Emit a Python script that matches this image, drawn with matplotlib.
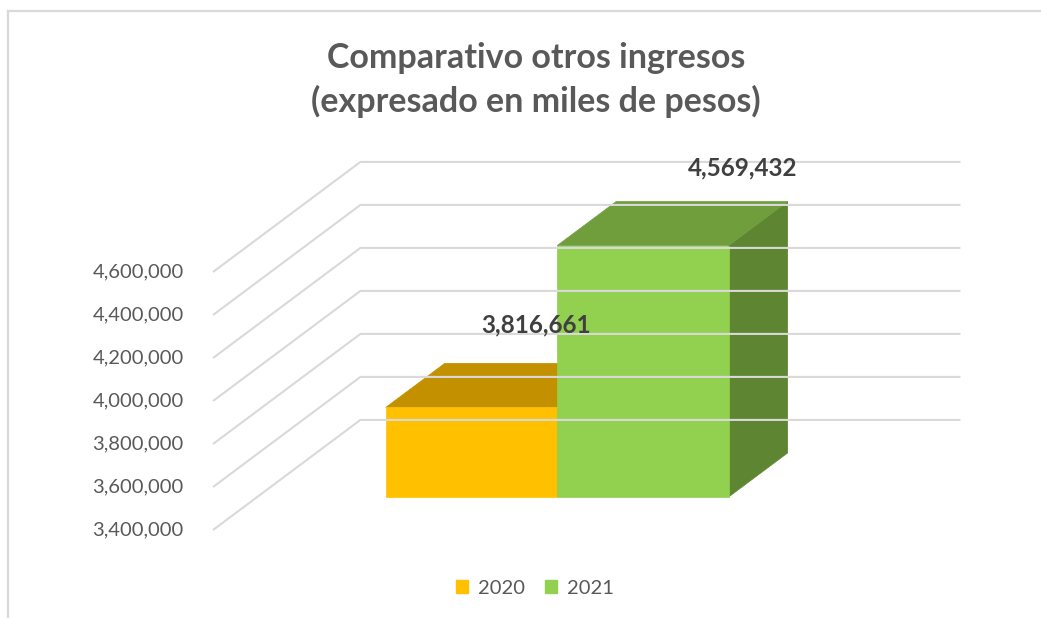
import matplotlib
matplotlib.use("Agg")
import matplotlib.pyplot as plt
from matplotlib.patches import Polygon, Patch
from matplotlib.lines import Line2D

plt.rcParams['font.family'] = ['Lato', 'DejaVu Sans']

# data
years = ['2020', '2021']
values = [3816661, 4569432]
bar_colors = ['#FFC000', '#92D050']
top_colors = ['#C39100', '#709E3C']
side_colors = ['#A07800', '#5E8632']
y_ticks = [3400000, 3600000, 3800000, 4000000, 4200000, 4400000, 4600000]
title = 'Comparativo otros ingresos\n(expresado en miles de pesos)'

y_min, y_max = 3400000, 4600000
floor_w = 3.5          # floor width in bar widths
gap = 0.75             # space before first bar
depth_dx = 0.86        # full wall depth, x (bar widths)
depth_dy = 512000      # full wall depth, y (value units)
d_front, d_back = 0.3, 0.7

gray = '#595959'
grid = '#D9D9D9'

fig = plt.figure(figsize=(10.41, 6.18), dpi=100)
ax = fig.add_axes([213 / 1041, 88 / 618, 600 / 1041, 258 / 618])
ax.set_xlim(0, floor_w)
ax.set_ylim(y_min, y_max)
ax.axis('off')


def P(x, v, d):
    return (x + depth_dx * d, v + depth_dy * d)


# gridlines: left wall + back wall
for v in y_ticks:
    xs, ys = zip(P(0, v, 0), P(0, v, 1), P(floor_w, v, 1))
    ax.plot(xs, ys, color=grid, lw=1.5, clip_on=False, solid_capstyle='butt')
    ax.annotate(f'{v:,}', xy=(0, v), xytext=(-21, 0), textcoords='offset points',
                ha='right', va='center', fontsize=14.5, color=gray, annotation_clip=False)

# bars
label_offsets = [(4, 28), (29, 24)]
for i, (yr, val) in enumerate(zip(years, values)):
    x0 = gap + i
    x1 = x0 + 1
    front = [P(x0, y_min, d_front), P(x1, y_min, d_front), P(x1, val, d_front), P(x0, val, d_front)]
    top = [P(x0, val, d_front), P(x1, val, d_front), P(x1, val, d_back), P(x0, val, d_back)]
    side = [P(x1, y_min, d_front), P(x1, y_min, d_back), P(x1, val, d_back), P(x1, val, d_front)]
    for pts, c in [(side, side_colors[i]), (top, top_colors[i]), (front, bar_colors[i])]:
        ax.add_patch(Polygon(pts, closed=True, facecolor=c, edgecolor=c, lw=0.5, clip_on=False))
    ax.annotate(f'{val:,}', xy=P((x0 + x1) / 2, val, d_back), xytext=label_offsets[i],
                textcoords='offset points', ha='center', va='center', fontsize=17.5,
                fontweight='bold', color='#404040', annotation_clip=False)

fig.text(536 / 1041, 1 - 80 / 618, title, ha='center', va='center', fontsize=24.5,
         fontweight='bold', color=gray, linespacing=1.4)

handles = [Patch(facecolor=c, edgecolor=c) for c in bar_colors]
fig.legend(handles, years, loc='center', bbox_to_anchor=(535 / 1041, 1 - 588 / 618), ncol=2,
           frameon=False, fontsize=14.5, labelcolor=gray, handlelength=0.6, handleheight=0.6,
           handletextpad=0.5, columnspacing=0.95)

# chart border (left and top edges visible)
fig.add_artist(Line2D([8 / 1041, 8 / 1041], [0, 1 - 10.5 / 618], color=grid, lw=1.6))
fig.add_artist(Line2D([8 / 1041, 1], [1 - 10.5 / 618, 1 - 10.5 / 618], color=grid, lw=1.6))

fig.savefig('out.png', dpi=100)
